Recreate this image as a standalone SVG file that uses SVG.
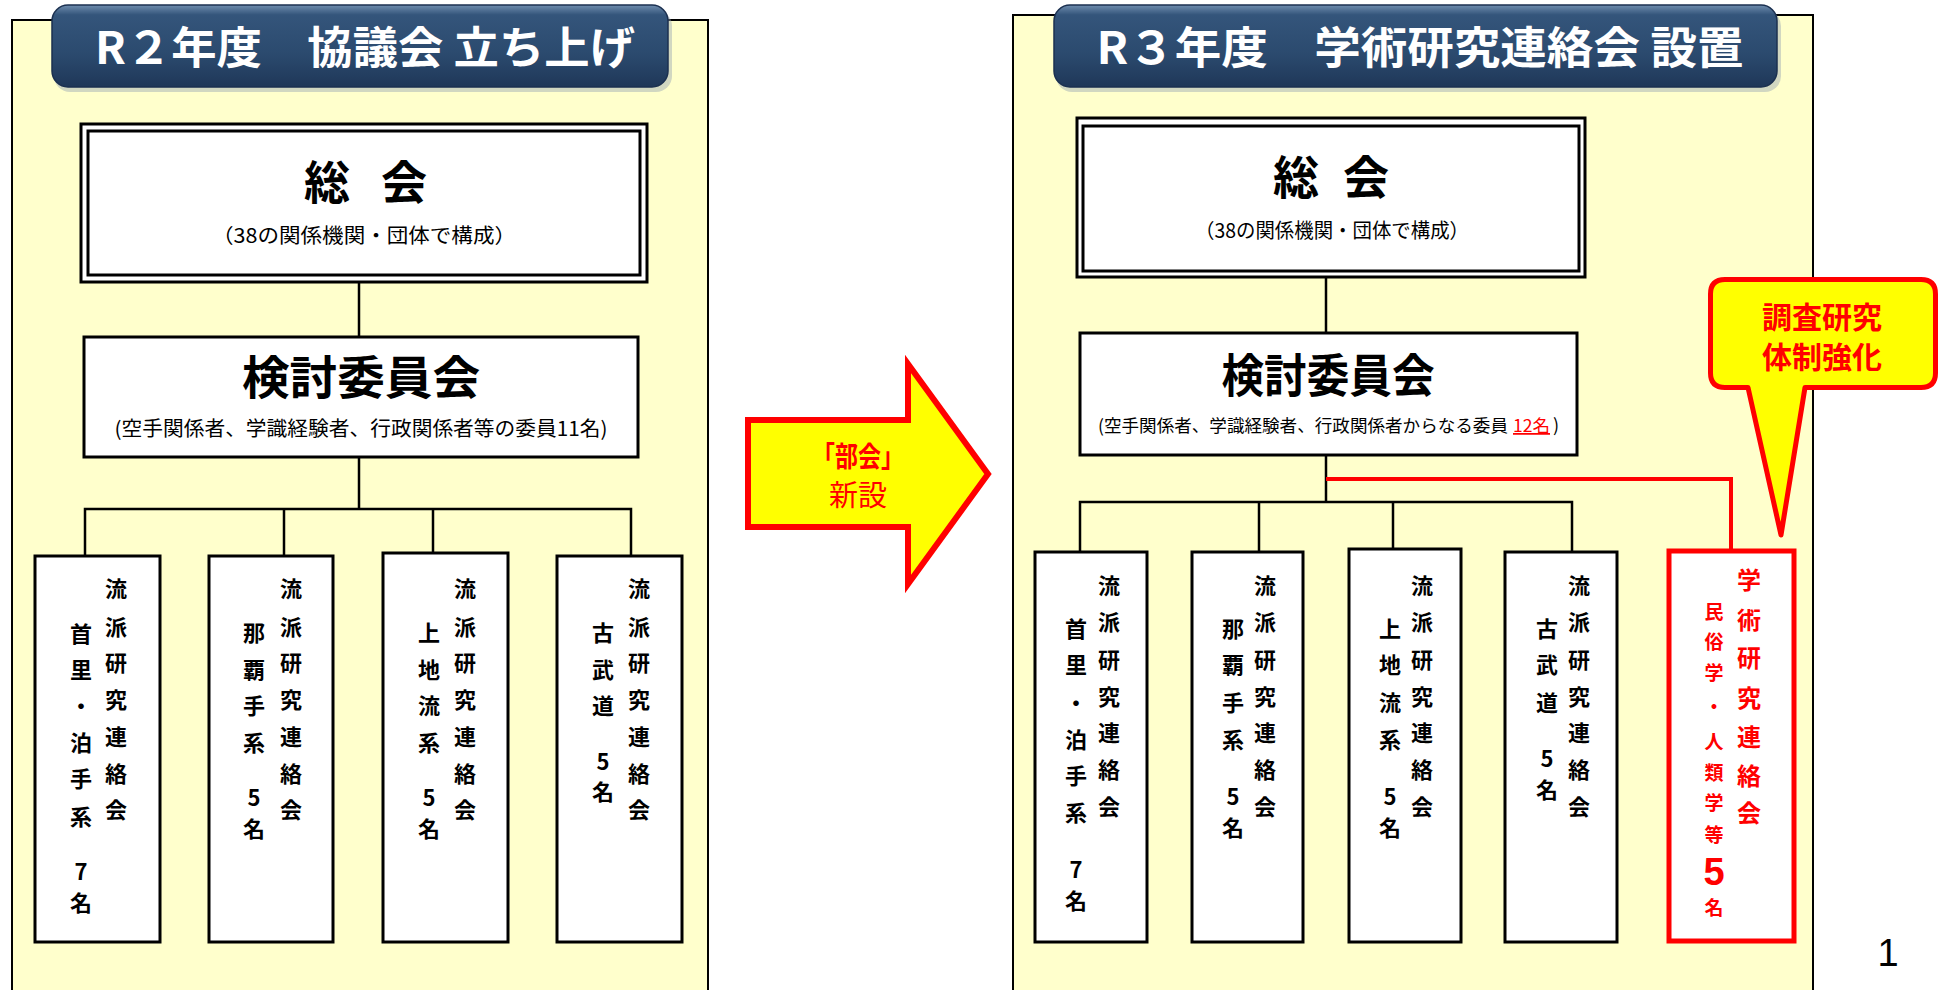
<svg xmlns="http://www.w3.org/2000/svg" width="1943" height="990" viewBox="0 0 1943 990">
<defs>
<linearGradient id="tg" x1="0" y1="0" x2="0" y2="1">
<stop offset="0" stop-color="#6F8DAE"/>
<stop offset="0.12" stop-color="#34557B"/>
<stop offset="0.6" stop-color="#2B4A6E"/>
<stop offset="1" stop-color="#1F3758"/>
</linearGradient>
<style>
text{font-family:"Noto Sans CJK JP","Noto Sans",sans-serif;}
.panel{fill:#FFFFCC;stroke:#000;stroke-width:2;}
.tshadow{fill:#9AA6B3;opacity:0.45;}
.tbox{fill:url(#tg);stroke:#1B3050;stroke-width:1.5;}
.ttl{fill:#fff;font-weight:bold;font-size:44px;text-anchor:middle;}
.box{fill:#fff;stroke:#000;stroke-width:3;}
.inner{fill:none;stroke:#000;stroke-width:3;}
.big{font-weight:bold;font-size:46px;text-anchor:middle;fill:#000;}
.sub{font-size:20px;text-anchor:middle;fill:#000;}
.vt{font-weight:bold;font-size:22px;text-anchor:middle;fill:#000;}
.line{stroke:#000;stroke-width:2.5;fill:none;}
.red{stroke:#FF0000;stroke-width:4;fill:none;}
.rbox{fill:#fff;stroke:#FF0000;stroke-width:5;}
.rt{fill:#FF0000;text-anchor:middle;font-weight:bold;}
</style>
</defs>

<!-- panels -->
<rect class="panel" x="12" y="20" width="696" height="990"/>
<rect class="panel" x="1013" y="15" width="800" height="990"/>

<!-- connectors -->
<g id="connectors">
<line class="line" x1="359" y1="282" x2="359" y2="337"/>
<line class="line" x1="359" y1="457" x2="359" y2="509"/>
<polyline class="line" points="85,556 85,509 631,509 631,556"/>
<line class="line" x1="284" y1="509" x2="284" y2="556"/>
<line class="line" x1="433" y1="509" x2="433" y2="553"/>
<line class="line" x1="1326" y1="277" x2="1326" y2="333"/>
<line class="line" x1="1326" y1="455" x2="1326" y2="502"/>
<polyline class="line" points="1080,552 1080,502 1572,502 1572,552"/>
<line class="line" x1="1259" y1="502" x2="1259" y2="552"/>
<line class="line" x1="1393" y1="502" x2="1393" y2="549"/>
<polyline class="red" points="1326,479 1731,479 1731,549"/>
</g>

<!-- titles -->
<g id="title-left">
<rect class="tshadow" x="54" y="10" width="618" height="82" rx="16"/>
<rect class="tbox" x="52" y="5" width="616" height="82" rx="16"/>
<text class="ttl" x="365" y="64" textLength="540" lengthAdjust="spacingAndGlyphs">R２年度　協議会 立ち上げ</text>
</g>
<g id="title-right">
<rect class="tshadow" x="1056" y="10" width="725" height="82" rx="16"/>
<rect class="tbox" x="1054" y="5" width="723" height="82" rx="16"/>
<text class="ttl" x="1420" y="64" textLength="647" lengthAdjust="spacingAndGlyphs">R３年度　学術研究連絡会 設置</text>
</g>

<!-- left: general assembly -->
<g id="soukai-left">
<rect class="box" x="81" y="124" width="566" height="158"/>
<rect class="inner" x="88" y="131" width="552" height="144"/>
<text class="big" x="327" y="199">総</text>
<text class="big" x="404" y="199">会</text>
<text class="sub" x="364" y="243" textLength="304" lengthAdjust="spacingAndGlyphs">（38の関係機関・団体で構成）</text>
</g>
<g id="kentou-left">
<rect class="box" x="84" y="337" width="554" height="120"/>
<text class="big" x="361" y="394" textLength="238" lengthAdjust="spacingAndGlyphs">検討委員会</text>
<text class="sub" x="361" y="436" textLength="493" lengthAdjust="spacingAndGlyphs">(空手関係者、学識経験者、行政関係者等の委員11名)</text>
</g>

<g id="L1">
<rect class="box" x="35" y="556" width="125" height="386"/>
<text class="vt"><tspan x="116" y="597">流</tspan><tspan x="116" y="635">派</tspan><tspan x="116" y="671">研</tspan><tspan x="116" y="708">究</tspan><tspan x="116" y="745">連</tspan><tspan x="116" y="782">絡</tspan><tspan x="116" y="818">会</tspan></text>
<text class="vt"><tspan x="81" y="642">首</tspan><tspan x="81" y="678">里</tspan><tspan x="81" y="714">・</tspan><tspan x="81" y="751">泊</tspan><tspan x="81" y="787">手</tspan><tspan x="81" y="825">系</tspan><tspan x="81" y="880">7</tspan><tspan x="81" y="911">名</tspan></text>
</g>
<g id="L2">
<rect class="box" x="209" y="556" width="124" height="386"/>
<text class="vt"><tspan x="291" y="597">流</tspan><tspan x="291" y="635">派</tspan><tspan x="291" y="671">研</tspan><tspan x="291" y="708">究</tspan><tspan x="291" y="745">連</tspan><tspan x="291" y="782">絡</tspan><tspan x="291" y="818">会</tspan></text>
<text class="vt"><tspan x="254" y="641">那</tspan><tspan x="254" y="678">覇</tspan><tspan x="254" y="714">手</tspan><tspan x="254" y="751">系</tspan><tspan x="254" y="806">5</tspan><tspan x="254" y="837">名</tspan></text>
</g>
<g id="L3">
<rect class="box" x="383" y="553" width="125" height="389"/>
<text class="vt"><tspan x="465" y="597">流</tspan><tspan x="465" y="635">派</tspan><tspan x="465" y="671">研</tspan><tspan x="465" y="708">究</tspan><tspan x="465" y="745">連</tspan><tspan x="465" y="782">絡</tspan><tspan x="465" y="818">会</tspan></text>
<text class="vt"><tspan x="429" y="641">上</tspan><tspan x="429" y="678">地</tspan><tspan x="429" y="714">流</tspan><tspan x="429" y="751">系</tspan><tspan x="429" y="806">5</tspan><tspan x="429" y="837">名</tspan></text>
</g>
<g id="L4">
<rect class="box" x="557" y="556" width="125" height="386"/>
<text class="vt"><tspan x="639" y="597">流</tspan><tspan x="639" y="635">派</tspan><tspan x="639" y="671">研</tspan><tspan x="639" y="708">究</tspan><tspan x="639" y="745">連</tspan><tspan x="639" y="782">絡</tspan><tspan x="639" y="818">会</tspan></text>
<text class="vt"><tspan x="603" y="641">古</tspan><tspan x="603" y="678">武</tspan><tspan x="603" y="714">道</tspan><tspan x="603" y="770">5</tspan><tspan x="603" y="800">名</tspan></text>
</g>

<!-- arrow -->
<g id="arrow">
<polygon points="748,420 908,420 908,364 988,474 908,584 908,527 748,527" fill="#FFFF00" stroke="#FF0000" stroke-width="6" stroke-linejoin="miter"/>
<text class="rt" x="858" y="467" font-size="28" textLength="92" lengthAdjust="spacingAndGlyphs">「部会」</text>
<text x="858" y="506" font-size="29" fill="#FF0000" text-anchor="middle">新設</text>
</g>

<!-- right -->
<g id="soukai-right">
<rect class="box" x="1077" y="118" width="508" height="159"/>
<rect class="inner" x="1083" y="126" width="496" height="145"/>
<text class="big" x="1296" y="194">総</text>
<text class="big" x="1366" y="194">会</text>
<text class="sub" x="1332" y="238" textLength="274" lengthAdjust="spacingAndGlyphs">（38の関係機関・団体で構成）</text>
</g>
<g id="kentou-right">
<rect class="box" x="1080" y="333" width="497" height="122"/>
<text class="big" x="1328" y="392" textLength="213" lengthAdjust="spacingAndGlyphs">検討委員会</text>
<text x="1098" y="432" font-size="17.5" fill="#000" textLength="410" lengthAdjust="spacingAndGlyphs">(空手関係者、学識経験者、行政関係者からなる委員</text>
<text x="1513" y="432" font-size="17.5" fill="#FF0000" text-decoration="underline" textLength="37" lengthAdjust="spacingAndGlyphs">12名</text>
<text x="1553" y="432" font-size="18" fill="#000">)</text>
</g>

<g id="R1">
<rect class="box" x="1035" y="552" width="112" height="390"/>
<text class="vt"><tspan x="1109" y="594">流</tspan><tspan x="1109" y="630">派</tspan><tspan x="1109" y="668">研</tspan><tspan x="1109" y="705">究</tspan><tspan x="1109" y="741">連</tspan><tspan x="1109" y="778">絡</tspan><tspan x="1109" y="815">会</tspan></text>
<text class="vt"><tspan x="1076" y="637">首</tspan><tspan x="1076" y="673">里</tspan><tspan x="1076" y="711">・</tspan><tspan x="1076" y="748">泊</tspan><tspan x="1076" y="784">手</tspan><tspan x="1076" y="821">系</tspan><tspan x="1076" y="878">7</tspan><tspan x="1076" y="909">名</tspan></text>
</g>
<g id="R2">
<rect class="box" x="1192" y="552" width="111" height="390"/>
<text class="vt"><tspan x="1265" y="594">流</tspan><tspan x="1265" y="630">派</tspan><tspan x="1265" y="668">研</tspan><tspan x="1265" y="705">究</tspan><tspan x="1265" y="741">連</tspan><tspan x="1265" y="778">絡</tspan><tspan x="1265" y="815">会</tspan></text>
<text class="vt"><tspan x="1233" y="637">那</tspan><tspan x="1233" y="673">覇</tspan><tspan x="1233" y="711">手</tspan><tspan x="1233" y="748">系</tspan><tspan x="1233" y="805">5</tspan><tspan x="1233" y="836">名</tspan></text>
</g>
<g id="R3">
<rect class="box" x="1349" y="549" width="112" height="393"/>
<text class="vt"><tspan x="1422" y="594">流</tspan><tspan x="1422" y="630">派</tspan><tspan x="1422" y="668">研</tspan><tspan x="1422" y="705">究</tspan><tspan x="1422" y="741">連</tspan><tspan x="1422" y="778">絡</tspan><tspan x="1422" y="815">会</tspan></text>
<text class="vt"><tspan x="1390" y="637">上</tspan><tspan x="1390" y="673">地</tspan><tspan x="1390" y="711">流</tspan><tspan x="1390" y="748">系</tspan><tspan x="1390" y="805">5</tspan><tspan x="1390" y="836">名</tspan></text>
</g>
<g id="R4">
<rect class="box" x="1505" y="552" width="112" height="390"/>
<text class="vt"><tspan x="1579" y="594">流</tspan><tspan x="1579" y="630">派</tspan><tspan x="1579" y="668">研</tspan><tspan x="1579" y="705">究</tspan><tspan x="1579" y="741">連</tspan><tspan x="1579" y="778">絡</tspan><tspan x="1579" y="815">会</tspan></text>
<text class="vt"><tspan x="1547" y="637">古</tspan><tspan x="1547" y="673">武</tspan><tspan x="1547" y="711">道</tspan><tspan x="1547" y="767">5</tspan><tspan x="1547" y="798">名</tspan></text>
</g>
<g id="R5">
<rect class="rbox" x="1669" y="551" width="125" height="390"/>
<text class="rt" font-size="24"><tspan x="1749" y="589">学</tspan><tspan x="1749" y="629">術</tspan><tspan x="1749" y="667">研</tspan><tspan x="1749" y="707">究</tspan><tspan x="1749" y="746">連</tspan><tspan x="1749" y="785">絡</tspan><tspan x="1749" y="822">会</tspan></text>
<text class="rt" font-size="19"><tspan x="1714" y="619">民</tspan><tspan x="1714" y="649">俗</tspan><tspan x="1714" y="680">学</tspan><tspan x="1714" y="714">・</tspan><tspan x="1714" y="749">人</tspan><tspan x="1714" y="780">類</tspan><tspan x="1714" y="810">学</tspan><tspan x="1714" y="842">等</tspan><tspan x="1714" y="915">名</tspan></text>
<text x="1714" y="885" font-size="38" font-weight="bold" fill="#FF0000" text-anchor="middle" style="font-family:'Liberation Sans',sans-serif">5</text>
</g>

<!-- callout -->
<g id="callout">
<path d="M1725,279.5 H1921 Q1935.5,279.5 1935.5,294 V373 Q1935.5,387.5 1921,387.5 H1805 L1781,535 L1748,387.5 H1725 Q1710.5,387.5 1710.5,373 V294 Q1710.5,279.5 1725,279.5 Z" fill="#FFFF00" stroke="#FF0000" stroke-width="5" stroke-linejoin="round"/>
<text class="rt" x="1822" y="328" font-size="30">調査研究</text>
<text class="rt" x="1822" y="368" font-size="30">体制強化</text>
</g>

<text x="1888" y="966" font-size="38" text-anchor="middle" fill="#000" style="font-family:'Liberation Sans',sans-serif">1</text>
</svg>
